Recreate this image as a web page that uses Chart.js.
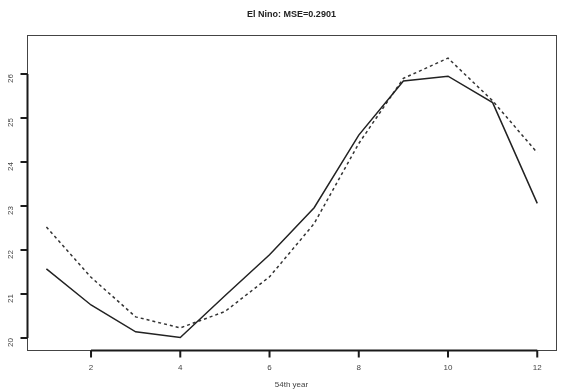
<!DOCTYPE html>
<html>
<head>
<meta charset="utf-8">
<script src="https://cdn.jsdelivr.net/npm/chart.js@4.4.1/dist/chart.umd.min.js"></script>
<style>
  html, body { margin: 0; padding: 0; background: #fff; }
  #wrap { width: 564px; height: 390px; }
</style>
</head>
<body>
<div id="wrap"><canvas id="myChart" width="564" height="390"></canvas></div>
<script>
'use strict';
// data
var months = [1, 2, 3, 4, 5, 6, 7, 8, 9, 10, 11, 12];
var actual = [21.57, 20.75, 20.14, 20.01, 20.96, 21.89, 22.96, 24.61, 25.84, 25.95, 25.35, 23.06];
var predicted = [22.52, 21.38, 20.48, 20.23, 20.6, 21.39, 22.6, 24.42, 25.9, 26.36, 25.39, 24.21];
var xTicks = [2, 4, 6, 8, 10, 12];
var yTicks = [20, 21, 22, 23, 24, 25, 26];
var titleText = 'El Nino: MSE=0.2901';
var xTitle = '54th year';

function toPoints(values) {
  var pts = [];
  for (var i = 0; i < months.length; i++) {
    pts.push({ x: months[i], y: values[i] });
  }
  return pts;
}

// box round the plot area plus R style axis lines and tick marks
var framePlugin = {
  id: 'frame',
  afterDraw: function (chart) {
    var a = chart.chartArea;
    var c = chart.ctx;
    var xs = chart.scales.x;
    var ys = chart.scales.y;
    var left = Math.round(a.left) + 0.5;
    var bottom = Math.round(a.bottom) + 0.5;
    c.save();
    c.setLineDash([]);
    c.strokeStyle = '#444';
    c.lineWidth = 1;
    c.strokeRect(left, Math.round(a.top) + 0.5, Math.round(a.right - a.left), Math.round(a.bottom - a.top));

    c.strokeStyle = '#1a1a1a';
    c.lineWidth = 2;
    c.beginPath();
    // x axis
    c.moveTo(xs.getPixelForValue(xTicks[0]), bottom);
    c.lineTo(xs.getPixelForValue(xTicks[xTicks.length - 1]), bottom);
    for (var i = 0; i < xTicks.length; i++) {
      var px = xs.getPixelForValue(xTicks[i]);
      c.moveTo(px, bottom);
      c.lineTo(px, bottom + 7);
    }
    // y axis
    c.moveTo(left, ys.getPixelForValue(yTicks[0]));
    c.lineTo(left, ys.getPixelForValue(yTicks[yTicks.length - 1]));
    for (var j = 0; j < yTicks.length; j++) {
      var py = ys.getPixelForValue(yTicks[j]);
      c.moveTo(left, py);
      c.lineTo(left - 7, py);
    }
    c.stroke();
    c.restore();
  }
};

var ctx = document.getElementById('myChart').getContext('2d');
var chart = new Chart(ctx, {
  type: 'line',
  data: {
    datasets: [{
      label: 'actual',
      data: toPoints(actual),
      borderColor: '#222',
      borderWidth: 1.5,
      pointRadius: 0,
      tension: 0,
      fill: false
    },
    {
      label: 'predicted',
      data: toPoints(predicted),
      borderColor: '#333',
      borderWidth: 1.5,
      borderDash: [3, 3],
      pointRadius: 0,
      tension: 0,
      fill: false
    }]
  },
  options: {
    responsive: false,
    animation: false,
    layout: { padding: { left: 0, right: 8, top: 0, bottom: 0 } },
    plugins: {
      legend: { display: false },
      tooltip: { enabled: false },
      title: {
        display: true,
        text: titleText,
        fullSize: false,
        color: '#222',
        font: { family: 'Liberation Sans, Arial, sans-serif', size: 9, weight: 'bold' },
        padding: { top: 9, bottom: 15.2 }
      }
    },
    scales: {
      x: {
        type: 'linear',
        min: 0.565,
        max: 12.42,
        afterBuildTicks: function (scale) {
          scale.ticks = xTicks.map(function (v) { return { value: v }; });
        },
        afterFit: function (scale) { scale.height = 40; },
        grid: { drawOnChartArea: false, drawTicks: true, tickLength: 6, color: 'rgba(0,0,0,0)' },
        border: { display: false },
        ticks: {
          color: '#444',
          padding: 7,
          maxRotation: 0,
          font: { family: 'Liberation Sans, Arial, sans-serif', size: 8 }
        },
        title: {
          display: true,
          text: xTitle,
          color: '#444',
          padding: { top: 0, bottom: 0 },
          font: { family: 'Liberation Sans, Arial, sans-serif', size: 8 }
        }
      },
      y: {
        type: 'linear',
        min: 19.727,
        max: 26.886,
        afterBuildTicks: function (scale) {
          scale.ticks = yTicks.map(function (v) { return { value: v }; });
        },
        afterFit: function (scale) { scale.width = 27; },
        grid: { drawOnChartArea: false, drawTicks: true, tickLength: 6, color: 'rgba(0,0,0,0)' },
        border: { display: false },
        ticks: {
          color: '#444',
          padding: 10,
          minRotation: 90,
          maxRotation: 90,
          font: { family: 'Liberation Sans, Arial, sans-serif', size: 8 }
        }
      }
    }
  },
  plugins: [framePlugin]
});
</script>
</body>
</html>
